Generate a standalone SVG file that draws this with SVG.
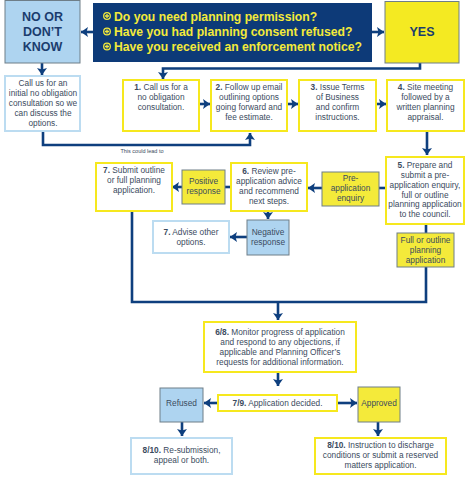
<svg xmlns="http://www.w3.org/2000/svg" width="474" height="479" viewBox="0 0 474 479">
<defs>
<marker id="ah" markerUnits="userSpaceOnUse" markerWidth="12" markerHeight="12" viewBox="-8 -6 9 12" refX="0" refY="0" orient="auto">
<path d="M-7,-5 L0,0 L-7,5 L-5.5,0 Z" fill="#0e3f7e"/>
</marker>
<style>
.t{font-family:"Liberation Sans",Arial,sans-serif;font-size:8.3px;fill:#3b4b5e;text-anchor:middle}
.b{font-weight:bold}
.yb{fill:#fff;stroke:#f6e81e;stroke-width:2}
.lb{fill:#fff;stroke:#bcdcf1;stroke-width:2}
.yf{fill:#f4ea3a;stroke:#6e7e88;stroke-width:1}
.bf{fill:#aed4f0;stroke:#6e7e88;stroke-width:1}
.c{fill:none;stroke:#0e3f7e;stroke-width:2.6}
.ca{fill:none;stroke:#0e3f7e;stroke-width:2.6;marker-end:url(#ah)}
.q{font-family:"Liberation Sans",Arial,sans-serif;font-size:12.2px;font-weight:bold;fill:#f4ea3a}
.h{font-family:"Liberation Sans",Arial,sans-serif;font-size:12.5px;font-weight:bold;fill:#1b3d6e;text-anchor:middle}
</style>
</defs>
<rect width="474" height="479" fill="#fff"/>
<g id="connectors">
<path class="ca" d="M93,32 H81"/>
<path class="ca" d="M372,32 H384"/>
<path class="ca" d="M42,63 V75"/>
<path class="ca" d="M420,63 V68.5 H163 V79"/>
<path class="ca" d="M199,104 H210"/>
<path class="ca" d="M287,104 H298"/>
<path class="ca" d="M376,104 H386"/>
<path class="ca" d="M43,132 V145 H250 V133"/>
<path class="ca" d="M427,131 V155"/>
<path class="c" d="M386,188 H379"/>
<path class="ca" d="M322,188 H308"/>
<path class="c" d="M231,187 H225"/>
<path class="ca" d="M182,187 H172"/>
<path class="ca" d="M268,211 V219"/>
<path class="ca" d="M247,237 H230"/>
<path class="c" d="M426,224 V233"/>
<path class="c" d="M426,267 V302 H132 V211"/>
<path class="ca" d="M278,302 V320"/>
<path class="ca" d="M278,372 V386"/>
<path class="ca" d="M218,403 H204"/>
<path class="ca" d="M337,403 H357"/>
<path class="ca" d="M182,422 V436"/>
<path class="ca" d="M378,422 V436"/>
<text x="142" y="153" style="font-family:'Liberation Sans',Arial,sans-serif;font-size:5.5px;fill:#3b4b5e;text-anchor:middle">This could lead to</text>
</g>
<g id="no">
<rect x="5" y="0.5" width="75" height="62.5" fill="#aed4f0" stroke="#6e7e88" stroke-width="1"/>
<text class="h" x="42.5" y="21">NO OR</text>
<text class="h" x="42.5" y="36">DON’T</text>
<text class="h" x="42.5" y="51">KNOW</text>
</g>
<g id="question">
<rect x="93" y="3" width="279" height="59" fill="#0d3a78"/>
<g fill="none" stroke="#f4ea3a" stroke-width="1.3">
<circle cx="107" cy="16" r="3.3"/><path d="M105,16 H109 M107,14 V18"/>
<circle cx="107" cy="31.5" r="3.3"/><path d="M105,31.5 H109 M107,29.5 V33.5"/>
<circle cx="107" cy="46.5" r="3.3"/><path d="M105,46.5 H109 M107,44.5 V48.5"/>
</g>
<text class="q" x="114" y="20.5">Do you need planning permission?</text>
<text class="q" x="114" y="36">Have you had planning consent refused?</text>
<text class="q" x="114" y="51">Have you received an enforcement notice?</text>
</g>
<g id="yes">
<rect x="385" y="1.5" width="74" height="61.5" fill="#f4ea22" stroke="#6e7e88" stroke-width="1"/>
<text class="h" x="422" y="36">YES</text>
</g>
<g id="callus">
<rect class="lb" x="5" y="76" width="75" height="55"/>
<text class="t" x="43" y="86">Call us for an</text>
<text class="t" x="43" y="96">initial no obligation</text>
<text class="t" x="43" y="106">consultation so we</text>
<text class="t" x="43" y="116">can discuss the</text>
<text class="t" x="43" y="126">options.</text>
</g>
<g id="s1">
<rect class="yb" x="123" y="80" width="76" height="51"/>
<text class="t" x="161" y="90"><tspan class="b">1.</tspan> Call us for a</text>
<text class="t" x="161" y="100">no obligation</text>
<text class="t" x="161" y="110">consultation.</text>
</g>
<g id="s2">
<rect class="yb" x="211" y="80" width="76" height="51"/>
<text class="t" x="249" y="90"><tspan class="b">2.</tspan> Follow up email</text>
<text class="t" x="249" y="100">outlining options</text>
<text class="t" x="249" y="110">going forward and</text>
<text class="t" x="249" y="120">fee estimate.</text>
</g>
<g id="s3">
<rect class="yb" x="299" y="80" width="77" height="51"/>
<text class="t" x="337.5" y="90"><tspan class="b">3.</tspan> Issue Terms</text>
<text class="t" x="337.5" y="100">of Business</text>
<text class="t" x="337.5" y="110">and confirm</text>
<text class="t" x="337.5" y="120">instructions.</text>
</g>
<g id="s4">
<rect class="yb" x="387" y="80" width="77" height="51"/>
<text class="t" x="425.5" y="90"><tspan class="b">4.</tspan> Site meeting</text>
<text class="t" x="425.5" y="100">followed by a</text>
<text class="t" x="425.5" y="110">written planning</text>
<text class="t" x="425.5" y="120">appraisal.</text>
</g>
<g id="s5">
<rect class="yb" x="386" y="157" width="78" height="67"/>
<text class="t" x="425" y="168"><tspan class="b">5.</tspan> Prepare and</text>
<text class="t" x="425" y="178">submit a pre-</text>
<text class="t" x="425" y="188">application enquiry,</text>
<text class="t" x="425" y="197.5">full or outline</text>
<text class="t" x="425" y="207">planning application</text>
<text class="t" x="425" y="217">to the council.</text>
</g>
<g id="preapp">
<rect class="yf" x="322" y="172" width="57" height="34"/>
<text class="t" x="350.5" y="181">Pre-</text>
<text class="t" x="350.5" y="191">application</text>
<text class="t" x="350.5" y="201">enquiry</text>
</g>
<g id="s6">
<rect class="yb" x="231" y="163" width="76" height="48"/>
<text class="t" x="269" y="174"><tspan class="b">6.</tspan> Review pre-</text>
<text class="t" x="269" y="184">application advice</text>
<text class="t" x="269" y="194">and recommend</text>
<text class="t" x="269" y="204">next steps.</text>
</g>
<g id="positive">
<rect class="yf" x="182" y="170" width="43" height="34"/>
<text class="t" x="203.5" y="184">Positive</text>
<text class="t" x="203.5" y="194">response</text>
</g>
<g id="s7submit">
<rect class="yb" x="96" y="163" width="76" height="48"/>
<text class="t" x="134" y="173"><tspan class="b">7.</tspan> Submit outline</text>
<text class="t" x="134" y="183">or full planning</text>
<text class="t" x="134" y="193">application.</text>
</g>
<g id="negative">
<rect class="bf" x="247" y="220" width="42" height="35"/>
<text class="t" x="268" y="235">Negative</text>
<text class="t" x="268" y="245">response</text>
</g>
<g id="s7advise">
<rect class="lb" x="153" y="221" width="76" height="32"/>
<text class="t" x="191" y="235"><tspan class="b">7.</tspan> Advise other</text>
<text class="t" x="191" y="244.5">options.</text>
</g>
<g id="fullapp">
<rect class="yf" x="397" y="233" width="57" height="34"/>
<text class="t" x="425.5" y="243">Full or outline</text>
<text class="t" x="425.5" y="253">planning</text>
<text class="t" x="425.5" y="263">application</text>
</g>
<g id="s68">
<rect class="yb" x="204" y="322" width="152" height="50"/>
<text class="t" x="280" y="335"><tspan class="b">6/8.</tspan> Monitor progress of application</text>
<text class="t" x="280" y="345">and respond to any objections, if</text>
<text class="t" x="280" y="355">applicable and Planning Officer’s</text>
<text class="t" x="280" y="364.5">requests for additional information.</text>
</g>
<g id="s79">
<rect class="yb" x="218" y="395" width="119" height="16"/>
<text class="t" x="277.5" y="406"><tspan class="b">7/9.</tspan> Application decided.</text>
</g>
<g id="refused">
<rect class="bf" x="160" y="388" width="43" height="34"/>
<text class="t" x="181.5" y="406">Refused</text>
</g>
<g id="approved">
<rect class="yf" x="358" y="387" width="42" height="35"/>
<text class="t" x="379" y="406">Approved</text>
</g>
<g id="s810r">
<rect class="lb" x="131" y="438" width="101" height="36"/>
<text class="t" x="181.5" y="453"><tspan class="b">8/10.</tspan> Re-submission,</text>
<text class="t" x="181.5" y="463">appeal or both.</text>
</g>
<g id="s810a">
<rect class="yb" x="315" y="438" width="131" height="36"/>
<text class="t" x="380.5" y="448"><tspan class="b">8/10.</tspan> Instruction to discharge</text>
<text class="t" x="380.5" y="458">conditions or submit a reserved</text>
<text class="t" x="380.5" y="468">matters application.</text>
</g>
</svg>
